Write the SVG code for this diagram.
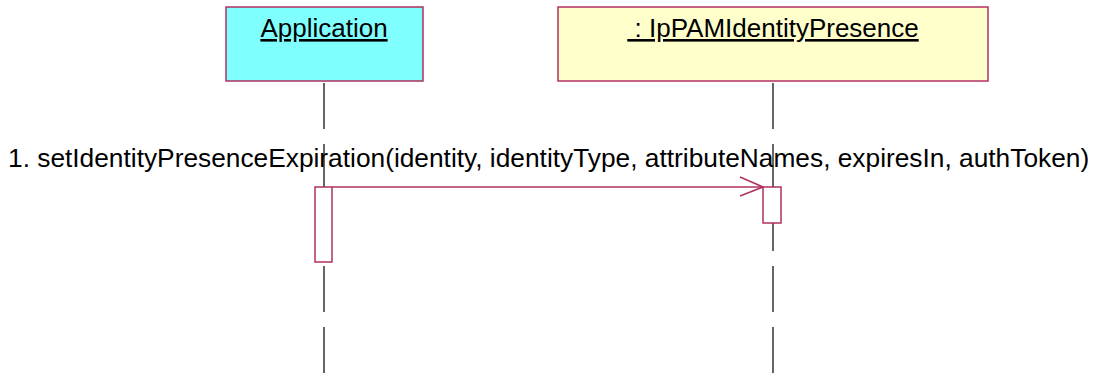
<svg xmlns="http://www.w3.org/2000/svg" width="1095" height="373" viewBox="0 0 1095 373">
<style>
.box{stroke:#b03060;stroke-width:1.5}
.lbl{font-family:"Liberation Sans",Arial,sans-serif;font-size:26px;fill:#000}
.life{stroke:#000;stroke-width:1.2;stroke-dasharray:46 15;fill:none}
.act{fill:#fff;stroke:#b03060;stroke-width:1.5}
.msg{stroke:#b03060;stroke-width:1.5;fill:none}
</style>
<rect width="1095" height="373" fill="#fff"/>
<g id="connectors">
<line class="life" x1="324" y1="83" x2="324" y2="373"/>
<line class="life" x1="773" y1="83" x2="773" y2="373"/>
<line class="msg" x1="332" y1="187" x2="763" y2="187"/>
<polyline class="msg" points="740,177 763,187 740,196"/>
<text class="lbl" x="8" y="167" style="font-size:26.3px">1. setIdentityPresenceExpiration(identity, identityType, attributeNames, expiresIn, authToken)</text>
</g>
<g id="application">
<rect class="box" x="226" y="7" width="197" height="74" fill="#80ffff"/>
<text class="lbl" x="324" y="37" text-anchor="middle" text-decoration="underline">Application</text>
<rect class="act" x="315" y="187" width="17" height="75"/>
</g>
<g id="identityPresence">
<rect class="box" x="558" y="7" width="430" height="74" fill="#ffffcc"/>
<text class="lbl" x="773" y="37" text-anchor="middle" text-decoration="underline" xml:space="preserve"> : IpPAMIdentityPresence</text>
<rect class="act" x="763" y="187" width="18" height="36"/>
</g>
</svg>
